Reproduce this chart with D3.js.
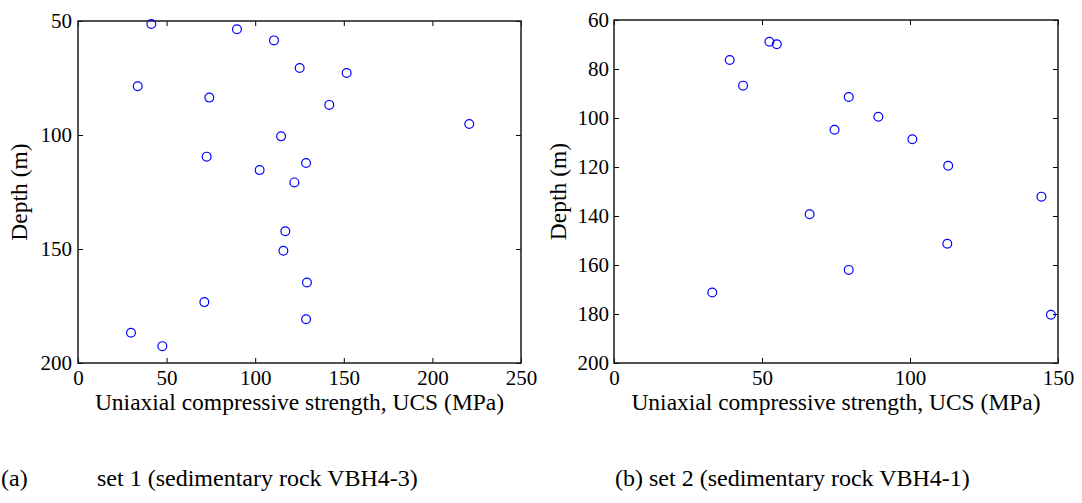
<!DOCTYPE html>
<html>
<head>
<meta charset="utf-8">
<script src="https://cdn.jsdelivr.net/npm/d3@7"></script>
<style>
  html, body { margin: 0; padding: 0; background: #fff; }
  svg { display: block; }
</style>
</head>
<body>
<svg id="fig" width="1082" height="503"></svg>
<script>
// Set 1 — sedimentary rock VBH4-3
const ucs1   = [41.4, 89.7, 110.6, 125.1, 151.6, 33.7, 74.1, 141.8, 220.8, 114.6, 72.6,
                128.7, 102.5, 122.1, 117.0, 115.9, 129.2, 71.3, 128.7, 29.9, 47.6];
const depth1 = [51.3, 53.6, 58.5, 70.6, 72.8, 78.6, 83.6, 86.8, 95.2, 100.6, 109.5,
                112.3, 115.4, 120.8, 142.2, 150.8, 164.7, 173.3, 180.8, 186.7, 192.6];

// Set 2 — sedimentary rock VBH4-1
const ucs2   = [52.5, 55.0, 39.1, 43.6, 79.3, 89.3, 74.5, 100.8, 112.9, 144.4, 66.1,
                112.6, 79.3, 33.2, 147.6];
const depth2 = [68.9, 69.9, 76.3, 86.8, 91.4, 99.5, 104.8, 108.7, 119.5, 132.1, 139.3,
                151.3, 162.0, 171.2, 180.3];

// Axis ranges and tick values
const xDomain1 = [0, 250], yDomain1 = [50, 200];
const xTicks1 = [0, 50, 100, 150, 200, 250], yTicks1 = [50, 100, 150, 200];
const xDomain2 = [0, 150], yDomain2 = [60, 200];
const xTicks2 = [0, 50, 100, 150], yTicks2 = [60, 80, 100, 120, 140, 160, 180, 200];

const xTitle = "Uniaxial compressive strength, UCS (MPa)";
const yTitle = "Depth (m)";
const captions = [
  { label: "(a)", text: "set 1 (sedimentary rock VBH4-3)" },
  { label: "(b)", text: "set 2 (sedimentary rock VBH4-1)" }
];

const FONT = '"Liberation Serif", "Times New Roman", serif';
const TICK_FS = 21, TITLE_FS = 23.5, CAPTION_FS = 24;

const svg = d3.select("#fig");

function panel(cfg) {
  const { left, top, right, bottom } = cfg.box;
  const x = d3.scaleLinear().domain(cfg.xDomain).range([left, right]);
  const y = d3.scaleLinear().domain(cfg.yDomain).range([top, bottom]);
  const g = svg.append("g");
  const tick = 5;

  // bottom axis with labels, ticks pointing inward
  const ax = g.append("g").attr("transform", `translate(0,${bottom})`)
    .call(d3.axisBottom(x).tickValues(cfg.xTicks).tickSize(-tick).tickPadding(7).tickFormat(d3.format("d")));
  // left axis with labels
  const ay = g.append("g").attr("transform", `translate(${left},0)`)
    .call(d3.axisLeft(y).tickValues(cfg.yTicks).tickSize(-tick).tickPadding(cfg.yPad).tickFormat(d3.format("d")));
  // mirrored ticks on top and right
  const at = g.append("g").attr("transform", `translate(0,${top})`)
    .call(d3.axisTop(x).tickValues(cfg.xTicks).tickSize(-tick).tickFormat(""));
  const ar = g.append("g").attr("transform", `translate(${right},0)`)
    .call(d3.axisRight(y).tickValues(cfg.yTicks).tickSize(-tick).tickFormat(""));

  [ax, ay, at, ar].forEach(a => {
    a.attr("font-family", FONT).attr("font-size", TICK_FS);
    a.select(".domain").remove();
    a.selectAll(".tick line").attr("stroke", "#000").attr("stroke-width", 1);
    a.selectAll("text").attr("fill", "#000");
  });

  // frame
  g.append("rect")
    .attr("x", left).attr("y", top)
    .attr("width", right - left).attr("height", bottom - top)
    .attr("fill", "none").attr("stroke", "#1a1a1a").attr("stroke-width", 1.5);

  // markers
  g.append("g").selectAll("circle")
    .data(d3.zip(cfg.ucs, cfg.depth))
    .join("circle")
    .attr("cx", d => x(d[0]))
    .attr("cy", d => y(d[1]))
    .attr("r", 4.4)
    .attr("fill", "none")
    .attr("stroke", "#0000ff")
    .attr("stroke-width", 1.2);

  // axis titles
  g.append("text")
    .attr("x", (left + right) / 2).attr("y", 410)
    .attr("text-anchor", "middle")
    .attr("font-family", FONT).attr("font-size", TITLE_FS)
    .text(xTitle);
  g.append("text")
    .attr("transform", `translate(${cfg.yTitleX},${(top + bottom) / 2}) rotate(-90)`)
    .attr("text-anchor", "middle")
    .attr("font-family", FONT).attr("font-size", TITLE_FS)
    .text(yTitle);
}

panel({
  box: { left: 78, top: 21, right: 521, bottom: 363 },
  xDomain: xDomain1, yDomain: yDomain1, xTicks: xTicks1, yTicks: yTicks1,
  ucs: ucs1, depth: depth1, yTitleX: 27, yPad: 6
});
panel({
  box: { left: 614, top: 20, right: 1058, bottom: 363 },
  xDomain: xDomain2, yDomain: yDomain2, xTicks: xTicks2, yTicks: yTicks2,
  ucs: ucs2, depth: depth2, yTitleX: 566, yPad: 5
});

// captions under the panels
const cap = svg.append("g").attr("font-family", FONT).attr("font-size", CAPTION_FS);
cap.append("text").attr("x", 1).attr("y", 486).text(captions[0].label);
cap.append("text").attr("x", 97).attr("y", 486).text(captions[0].text);
cap.append("text").attr("x", 615).attr("y", 486).text(captions[1].label + " " + captions[1].text);
</script>
</body>
</html>
